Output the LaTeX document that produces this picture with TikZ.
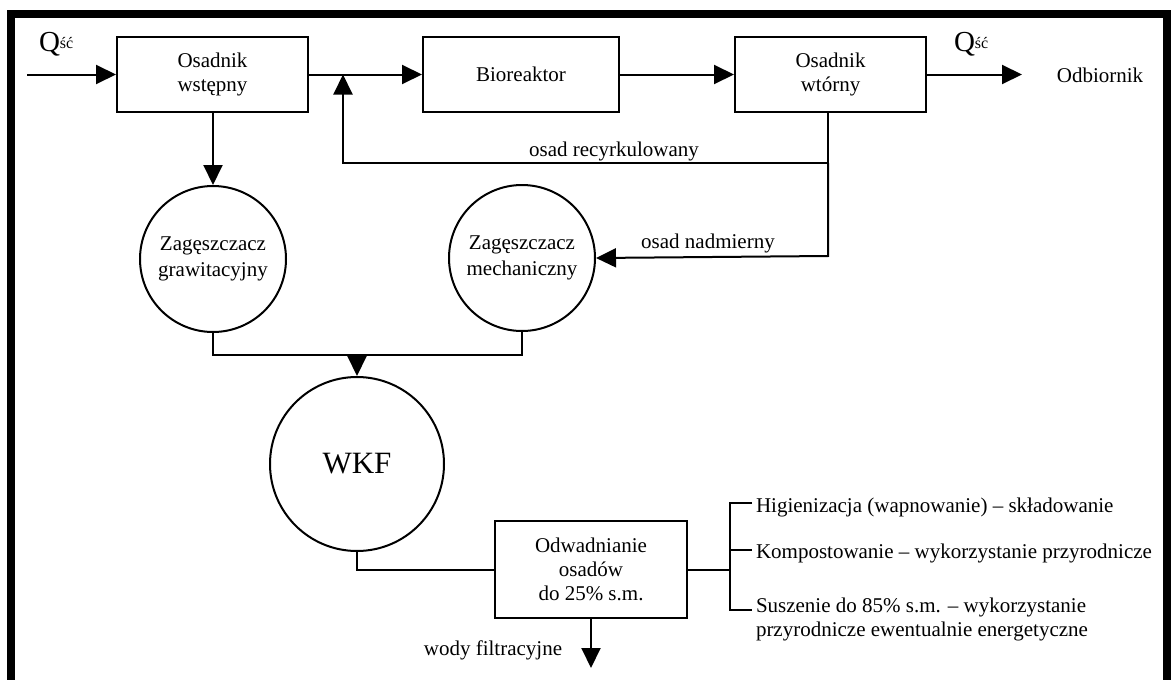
\documentclass[tikz,border=0pt]{standalone}
\usepackage{fontspec}
\setmainfont{Liberation Serif}
\usetikzlibrary{arrows.meta,calc}
\begin{document}
\begin{tikzpicture}[x=1pt,y=-1pt,line width=2pt,
  flow/.style={-{Triangle[length=20pt,width=19pt]}},
  box/.style={draw,rectangle,minimum width=191pt,minimum height=75pt,align=center,inner sep=0pt,font=\fontsize{21}{24}\selectfont},
  tank/.style={draw,circle,minimum size=146pt,inner sep=0pt,align=center,font=\fontsize{21}{26}\selectfont},
  lbl/.style={inner sep=0pt,font=\fontsize{21}{25}\selectfont},
  qlbl/.style={inner sep=0pt,anchor=base west,font=\fontsize{29}{29}\selectfont}]
\useasboundingbox (0,0) rectangle (1171,680);
\fill[white] (0,0) rectangle (1171,680);
\begin{scope}
  \clip (0,0) rectangle (1171,680);
  \draw[line width=8pt] (11,13.5) rectangle (1167,684);
\end{scope}
% top row
\node[box] (osw) at (212.5,74.5) {Osadnik\\wstępny};
\node[box,minimum width=196pt] (bio) at (521,74.5) {Bioreaktor};
\node[box] (osn) at (830.5,74.5) {Osadnik\\wtórny};
\coordinate (in) at (27,74.5);
\coordinate (out) at (1022,74.5);
\draw[flow] (in) -- (osw.west);
\draw[flow] (osw.east) -- (bio.west);
\draw[flow] (bio.east) -- (osn.west);
\draw[flow] (osn.east) -- (out);
\node[qlbl] (q1) at (38,51) {Q\raisebox{2pt}{\fontsize{16}{16}\selectfont ść}};
\node[qlbl] (q2) at (953,51) {Q\raisebox{2pt}{\fontsize{16}{16}\selectfont ść}};
\node[lbl,anchor=base] (odb) at (1100,82) {Odbiornik};
% circles
\node[tank] (grav) at (213,259) {Zagęszczacz\\grawitacyjny};
\node[tank] (mech) at (522,258) {Zagęszczacz\\mechaniczny};
\node[tank,minimum size=174pt,font=\fontsize{31}{31}\selectfont] (wkf) at (357,464) {WKF};
\node[box,minimum width=192pt,minimum height=97pt] (odw) at (591,569.5) {Odwadnianie\\osadów\\do 25\% s.m.};
% recirculation
\coordinate (j1) at (343,74.5);
\coordinate (r1) at (828,163);
\coordinate (r2) at (343,163);
\coordinate (r3) at (828,256);
\draw (osn.south -| r1) -- (r1);
\draw[flow] (r1) -- (r2) -- (j1);
\draw[flow] (r1) -- (r3) -- (mech.east);
\node[lbl,anchor=base] (lrec) at (614,156) {osad recyrkulowany};
\node[lbl,anchor=base] (lnad) at (708,248) {osad nadmierny};
% thickeners
\draw[flow] (osw.south -| grav.north) -- (grav.north);
\coordinate (m) at (357,355);
\draw (grav.south) -- (grav.south |- m) -- (mech.south |- m) -- (mech.south);
\draw[flow] (m) -- (wkf.north);
\draw (wkf.south) -- (wkf.south |- odw.west) -- (odw.west);
\coordinate (wf) at (591,668);
\draw[flow] (odw.south) -- (wf);
\node[lbl,anchor=base] (lwf) at (493,655) {wody filtracyjne};
% outputs
\coordinate (b0) at (730,569.5);
\coordinate (bt) at (730,503);
\coordinate (bm) at (730,550);
\coordinate (bb) at (730,610);
\draw (odw.east) -- (b0);
\draw ($(bt)+(22,0)$) -- (bt) -- (bb) -- ($(bb)+(22,0)$);
\draw (bm) -- ($(bm)+(22,0)$);
\node[lbl,anchor=base west] (o1) at (755,512) {Higienizacja (wapnowanie) – składowanie};
\node[lbl,anchor=base west] (o2) at (755,558) {Kompostowanie – wykorzystanie przyrodnicze};
\node[lbl,anchor=base west] (o3) at (755,612) {Suszenie do 85\% s.m. – wykorzystanie};
\node[lbl,anchor=base west] (o4) at (755,636) {przyrodnicze ewentualnie energetyczne};
\end{tikzpicture}
\end{document}
